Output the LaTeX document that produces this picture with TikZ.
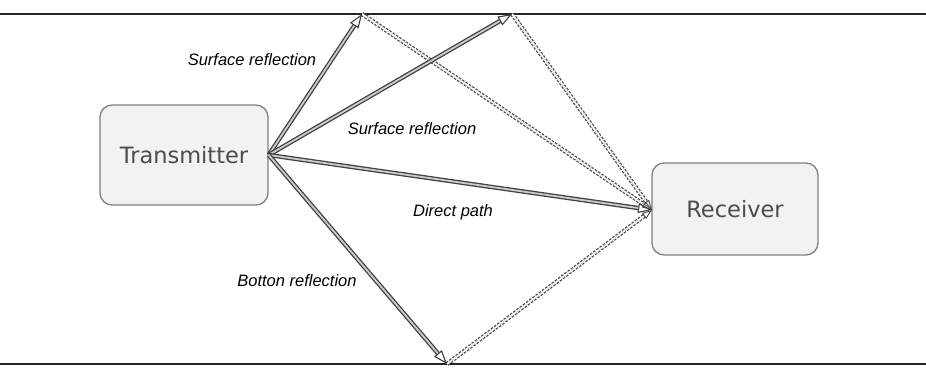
\documentclass[tikz,border=0pt]{standalone}
\usepackage{fontspec}
\setmainfont{Liberation Sans}
\newfontfamily\boxfont{DejaVu Sans}
\usetikzlibrary{arrows.meta}
\begin{document}
\begin{tikzpicture}[x=1pt,y=-1pt,
  unit/.style={draw=black!50, rounded corners=12pt, fill=black!5, minimum width=168pt, minimum height=100pt, font=\boxfont\fontsize{22.5}{26}\selectfont, text=black!70, line width=1.3pt},
  ray/.style={draw=black!75, double=white!80!black, double distance=1.8pt, line width=1.3pt, -{Triangle[open,length=14pt,width=10pt,line width=1.1pt]}},
  echo/.style={draw=black!70, double=white, double distance=1.8pt, line width=1.3pt, dash pattern=on 2.5pt off 1.5pt, -{Triangle[open,length=10pt,width=7pt,line width=0.9pt]}},
  lbl/.style={font=\itshape\fontsize{16.5}{19}\selectfont, text=black},
  seabed/.style={draw=black!85, line width=1.8pt}]
\useasboundingbox (0,0) rectangle (926,367);
\coordinate (sl) at (0,14); \coordinate (sr) at (926,14);
\coordinate (bl) at (0,364); \coordinate (br) at (926,364);
\draw[seabed] (sl) -- (sr);
\draw[seabed] (bl) -- (br);
\node[unit] (tx) at (184,155) {Transmitter};
\node[unit, minimum width=166pt, minimum height=92pt] (rx) at (735,209) {Receiver};
\coordinate (s1) at (362,14);
\coordinate (s2) at (512,14);
\coordinate (b1) at (447,364);
\coordinate (rp) at (652,210);
\draw[echo] (s1) -- (rp);
\draw[echo] (s2) -- (rp);
\draw[echo] (b1) -- (rp);
\draw[ray] (tx.east) -- (s1);
\draw[ray] (tx.east) -- (s2);
\draw[ray] (tx.east) -- (rp);
\draw[ray] (tx.east) -- (b1);
\node[lbl] (l1) at (252,60) {Surface reflection};
\node[lbl] (l2) at (412,129) {Surface reflection};
\node[lbl] (l3) at (453,212) {Direct path};
\node[lbl] (l4) at (297,281) {Botton reflection};
\end{tikzpicture}
\end{document}
